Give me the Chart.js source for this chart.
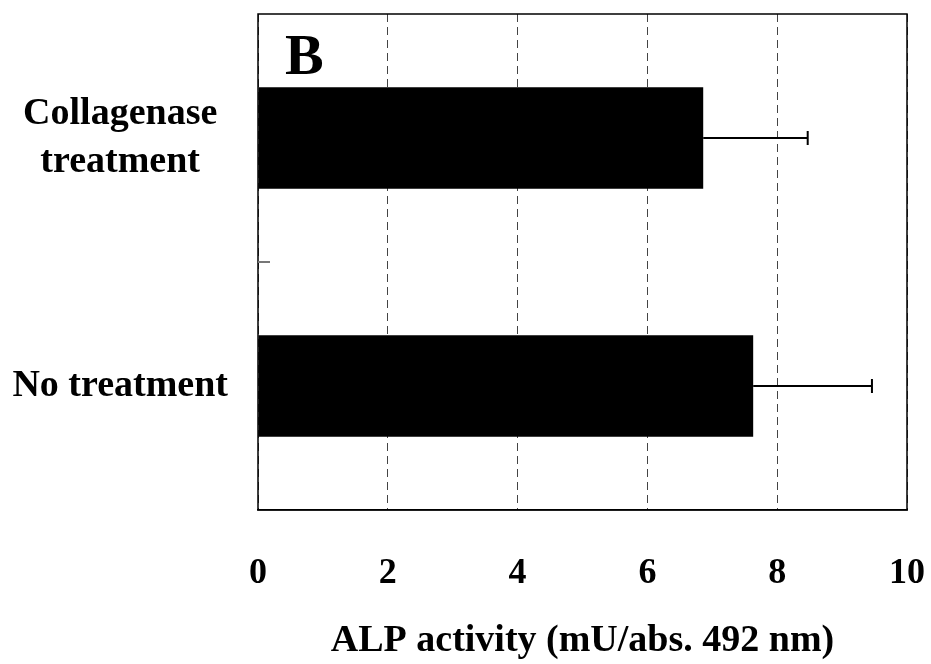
<!DOCTYPE html>
<html>
<head>
<meta charset="utf-8">
<script src="https://cdn.jsdelivr.net/npm/chart.js@4"></script>
<style>
  body { margin: 0; background: #fff; }
  #wrap { width: 931px; height: 664px; position: relative; }
</style>
</head>
<body>
<div id="wrap"><canvas id="alpChart"></canvas></div>
<script>
// Data
const categories = [['Collagenase', 'treatment'], 'No treatment'];
const activity = [6.86, 7.63];
const errors = [1.61, 1.83];
const xTicks = [0, 2, 4, 6, 8, 10];
const panelLabel = 'B';
const xTitle = 'ALP activity (mU/abs. 492 nm)';

const FONT = "'Liberation Serif', 'Times New Roman', serif";

// Drop the extra padding Chart.js reserves for overhanging labels
function noLabelPadding(scale) {
    scale.paddingTop = 0;
    scale.paddingBottom = 0;
    scale.paddingLeft = 0;
    scale.paddingRight = 0;
}

// Error bars (right side only) with end cap
const errorBarPlugin = {
    id: 'errorBars',
    afterDatasetsDraw(chart) {
        const ctx = chart.ctx;
        const xScale = chart.scales.x;
        const meta = chart.getDatasetMeta(0);
        ctx.save();
        ctx.strokeStyle = '#000';
        ctx.lineWidth = 2;
        meta.data.forEach((bar, i) => {
            const xEnd = xScale.getPixelForValue(activity[i] + errors[i]);
            ctx.beginPath();
            ctx.moveTo(bar.x, bar.y);
            ctx.lineTo(xEnd, bar.y);
            ctx.moveTo(xEnd, bar.y - 7);
            ctx.lineTo(xEnd, bar.y + 7);
            ctx.stroke();
        });
        ctx.restore();
    }
};

// Plot frame, inner tick between categories and panel letter
const framePlugin = {
    id: 'frame',
    afterDraw(chart) {
        const ctx = chart.ctx;
        const a = chart.chartArea;
        const yScale = chart.scales.y;
        ctx.save();
        ctx.strokeStyle = '#000';
        ctx.lineWidth = 1.5;
        ctx.strokeRect(a.left, a.top, a.right - a.left, a.bottom - a.top);

        const mid = (yScale.getPixelForValue(0) + yScale.getPixelForValue(1)) / 2;
        ctx.strokeStyle = '#777';
        ctx.lineWidth = 2;
        ctx.beginPath();
        ctx.moveTo(a.left, mid);
        ctx.lineTo(a.left + 12, mid);
        ctx.stroke();

        ctx.fillStyle = '#000';
        ctx.font = 'bold 58px ' + FONT;
        ctx.textBaseline = 'alphabetic';
        ctx.textAlign = 'left';
        ctx.fillText(panelLabel, a.left + 27, a.top + 60);
        ctx.restore();
    }
};

const ctx = document.getElementById('alpChart').getContext('2d');
const chart = new Chart(ctx, {
    type: 'bar',
    data: {
        labels: categories,
        datasets: [{
            data: activity,
            backgroundColor: '#000',
            borderWidth: 0,
            barPercentage: 0.41,
            categoryPercentage: 1.0
        }]
    },
    options: {
        indexAxis: 'y',
        responsive: true,
        maintainAspectRatio: false,
        animation: false,
        layout: {
            padding: { top: 14, right: 24, left: 0, bottom: 0 }
        },
        plugins: {
            legend: { display: false },
            tooltip: { enabled: false }
        },
        scales: {
            x: {
                min: 0,
                max: 10,
                afterBuildTicks: (scale) => {
                    scale.ticks = xTicks.map(v => ({ value: v }));
                },
                afterFit: (scale) => {
                    scale.height = 154;
                    noLabelPadding(scale);
                },
                grid: {
                    color: '#444',
                    lineWidth: 1,
                    drawTicks: false
                },
                border: { display: true, color: '#000', width: 1.5, dash: [8, 5] },
                ticks: {
                    color: '#000',
                    padding: 42,
                    maxRotation: 0,
                    font: { family: FONT, size: 36, weight: 'bold' }
                },
                title: {
                    display: true,
                    text: xTitle,
                    color: '#000',
                    padding: { top: 0, bottom: 0 },
                    font: { family: FONT, size: 38, weight: 'bold' }
                }
            },
            y: {
                afterFit: (scale) => {
                    scale.width = 258;
                    noLabelPadding(scale);
                },
                grid: { display: false },
                border: { display: false },
                ticks: {
                    color: '#000',
                    padding: 22,
                    crossAlign: 'center',
                    font: { family: FONT, size: 38, weight: 'bold', lineHeight: 1.27 }
                }
            }
        }
    },
    plugins: [errorBarPlugin, framePlugin]
});
</script>
</body>
</html>
